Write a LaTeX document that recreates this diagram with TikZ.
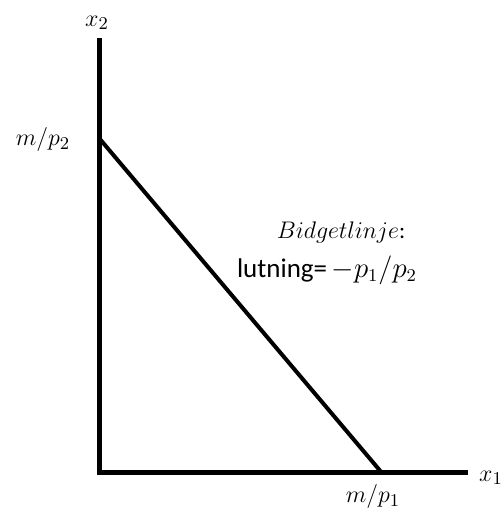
\documentclass[tikz,border=0pt]{standalone}
\usepackage{amsmath}
\usepackage{fontspec}
\setmainfont{Carlito}
\usepackage{tikz}
\usetikzlibrary{arrows.meta,calc,positioning}
\definecolor{AxisBlack}{RGB}{0,0,0}

\begin{document}
\begin{tikzpicture}[x=0.5pt,y=0.5pt,font=\fontsize{12.5}{14}\selectfont,
  axis/.style={line width=2.5pt,AxisBlack,line cap=rect},
  budget/.style={line width=2pt,AxisBlack}]
\useasboundingbox (-99,-35) rectangle (404,473);
\coordinate (o) at (0,0);\coordinate (ytop) at (0,432);\coordinate (xend) at (366,0);
\coordinate (a) at (0,335);\coordinate (b) at (283,0);
\draw[axis] (ytop)--(o)--(xend);
\draw[budget] (a)--(b);
\node (x2) at (-2,450){$x_2$};\node (x1) at (392,-5){$x_1$};
\node (mp2) at (-56,333){$m/p_2$};\node (mp1) at (274,-24){$m/p_1$};
\node[font=\fontsize{11.5}{13}\selectfont] (bl) at (242,240){$Bidgetlinje$:};
\node[font=\fontsize{13.5}{15}\selectfont] (lut) at (228,203){lutning=\,$-p_1/p_2$};
\end{tikzpicture}
\end{document}
